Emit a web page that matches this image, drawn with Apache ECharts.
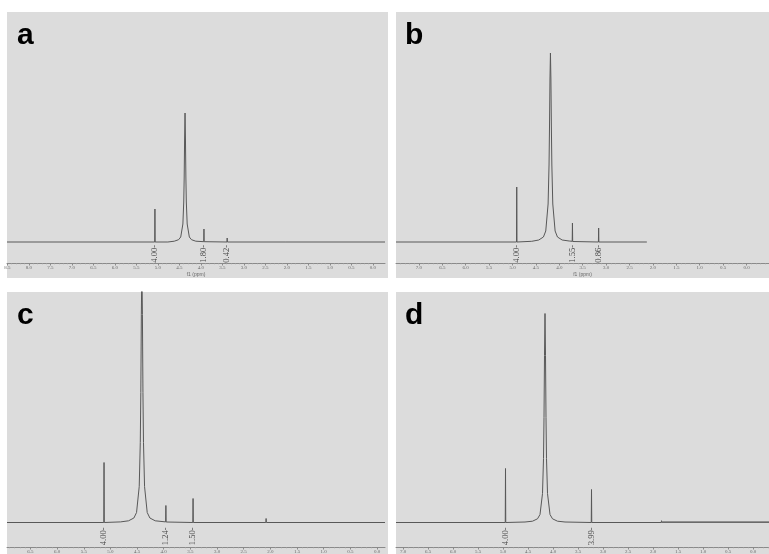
<!DOCTYPE html>
<html><head><meta charset="utf-8">
<script src="https://cdn.jsdelivr.net/npm/echarts@6/dist/echarts.min.js"></script>
<style>html,body{margin:0;padding:0;background:#fff}#c{width:769px;height:554px}</style>
</head><body><div id="c"></div>
<script>
// Panel letters
const panelNames = ['a', 'b', 'c', 'd'];
// Tick labels (ppm) for each panel
const ticksA = ['8.5','8.0','7.5','7.0','6.5','6.0','5.5','5.0','4.5','4.0','3.5','3.0','2.5','2.0','1.5','1.0','0.5','0.0'];
const ticksB = ['7.5','7.0','6.5','6.0','5.5','5.0','4.5','4.0','3.5','3.0','2.5','2.0','1.5','1.0','0.5','0.0','-0.5'];
const ticksC = ['7.0','6.5','6.0','5.5','5.0','4.5','4.0','3.5','3.0','2.5','2.0','1.5','1.0','0.5','0.0'];
const ticksD = ['7.0','6.5','6.0','5.5','5.0','4.5','4.0','3.5','3.0','2.5','2.0','1.5','1.0','0.5','0.0','-0.5'];
// Spectra: [ppm, intensity]
const specA = [[8.51,0],[5.075,0],[5.07,33],[5.065,0],[4.77,0],[4.62,0.8],[4.52,2.3],[4.47,5],[4.42,18],[4.40,40],[4.39,64],[4.38,103],[4.37,129],[4.36,103],[4.35,64],[4.34,40],[4.32,18],[4.27,5],[4.22,2.3],[4.12,0.8],[3.935,0.3],[3.93,13],[3.925,0.3],[3.395,0],[3.39,4],[3.385,0],[2.025,0],[2.02,2],[2.015,0],[-0.28,0]];
const specB = [[7.49,0],[4.915,0],[4.91,55],[4.905,0],[4.59,0.7],[4.44,2],[4.34,5],[4.29,11],[4.24,38],[4.22,77],[4.21,115],[4.20,163],[4.19,189],[4.18,163],[4.17,115],[4.16,77],[4.14,38],[4.09,11],[4.04,5],[3.94,2],[3.79,1],[3.725,0.7],[3.72,19],[3.715,0.5],[3.165,0],[3.16,14],[3.155,0],[2.13,0]];
const specC = [[6.94,0],[5.125,0],[5.12,60],[5.115,0],[4.81,0.6],[4.66,1.7],[4.56,4.5],[4.51,10],[4.46,36],[4.44,80],[4.43,130],[4.42,208],[4.41,260],[4.40,208],[4.39,130],[4.38,80],[4.36,36],[4.31,10],[4.26,4.5],[4.16,1.7],[3.965,0.6],[3.96,17],[3.955,0.5],[3.455,0],[3.45,24],[3.445,0],[2.085,0],[2.08,4],[2.075,0],[-0.15,0]];
const specD = [[7.14,0],[4.955,0],[4.95,54],[4.945,0],[4.56,0.5],[4.41,1.3],[4.31,3.7],[4.26,8],[4.21,29],[4.19,64],[4.18,105],[4.17,167],[4.16,209],[4.15,167],[4.14,105],[4.13,64],[4.11,29],[4.06,8],[4.01,3.7],[3.91,1.3],[3.76,0.5],[3.235,0],[3.23,33],[3.225,0],[1.835,0],[1.83,2],[1.825,0]];
const specD2 = [[1.83,0.3],[-0.32,0.3]];
// Integrals
const intPosA = [5.07, 3.93, 3.39];
const intValA = ['4.00', '1.80', '0.42'];
const intPosB = [4.91, 3.72, 3.16];
const intValB = ['4.00', '1.55', '0.86'];
const intPosC = [5.12, 3.96, 3.45];
const intValC = ['4.00', '1.24', '1.50'];
const intPosD = [4.95, 3.23];
const intValD = ['4.00', '3.99'];

const panels = [
  {rect:[7,12,381,266], grid:{left:7, top:12, width:378, height:251}, x:[-0.28,8.51], y:[-21,230], ticks:ticksA, spec:specA, ip:intPosA, iv:intValA, lab:[17,36], anchor:-3},
  {rect:[396,12,373,266], grid:{left:396, top:12, width:373, height:251}, x:[-0.48,7.49], y:[-21,230], ticks:ticksB, spec:specB, ip:intPosB, iv:intValB, lab:[405,36], anchor:-3},
  {rect:[7,292,381,262], grid:{left:7, top:292, width:378, height:255}, x:[-0.15,6.94], y:[-24.5,230.5], ticks:ticksC, spec:specC, ip:intPosC, iv:intValC, lab:[17,316], anchor:-5},
  {rect:[396,292,373,262], grid:{left:396, top:292, width:373, height:255}, x:[-0.32,7.14], y:[-24.5,230.5], ticks:ticksD, spec:specD, ip:intPosD, iv:intValD, lab:[405,316], anchor:-5}
];

const grid = [], xAxis = [], yAxis = [], series = [], graphic = [];
panels.forEach((p, i) => {
  graphic.push({type:'rect', z:-10, shape:{x:p.rect[0], y:p.rect[1], width:p.rect[2], height:p.rect[3]}, style:{fill:'#dcdcdc'}});
  graphic.push({type:'text', z:10, x:p.lab[0], y:p.lab[1], style:{text:panelNames[i], font:'bold 30px "Liberation Sans", Arial, sans-serif', fill:'#000', verticalAlign:'middle'}});
  grid.push(Object.assign({containLabel:false}, p.grid));
  const major = p.ticks.map(Number);
  const minor = [];
  for (let k = 0; k < major.length - 1; k++) {
    for (let m = 1; m < 5; m++) minor.push(+(major[k] + (major[k+1]-major[k]) * m / 5).toFixed(2));
  }
  xAxis.push({type:'value', gridIndex:i, inverse:true, min:p.x[0], max:p.x[1],
    axisLine:{show:true, onZero:false, lineStyle:{color:'#8a8a8a', width:1}},
    axisTick:{show:true, length:2.5, customValues:major, lineStyle:{color:'#8a8a8a'}},
    axisLabel:{show:true, customValues:major, formatter:v=>v.toFixed(1), fontSize:5, color:'#6a6a6a', margin:2, fontFamily:'Liberation Serif'},
    splitLine:{show:false},
    name: i < 2 ? 'f1 (ppm)' : '', nameLocation:'middle', nameGap:9, nameTextStyle:{fontSize:5, color:'#6a6a6a'}
  });
  xAxis.push({type:'value', gridIndex:i, inverse:true, min:p.x[0], max:p.x[1], position:'bottom',
    axisLine:{show:false, onZero:false}, axisTick:{show:true, length:1.2, customValues:minor, lineStyle:{color:'#999'}},
    axisLabel:{show:false}, splitLine:{show:false}});
  yAxis.push({type:'value', gridIndex:i, min:p.y[0], max:p.y[1], show:false});
  series.push({type:'line', xAxisIndex:2*i, yAxisIndex:i, data:p.spec, symbol:'none', clip:true,
    lineStyle:{color:'#585858', width:1}, animation:false});
  if (i === 3) {
    series.push({type:'line', xAxisIndex:2*i, yAxisIndex:i, data:specD2, symbol:'none', clip:true,
      lineStyle:{color:'#444', width:1.3}, animation:false});
  }
  series.push({type:'scatter', xAxisIndex:2*i, yAxisIndex:i, symbolSize:0.1, animation:false,
    itemStyle:{color:'#1a1a1a'},
    data:p.ip.map((x, k) => ({value:[x, p.anchor], name:p.iv[k]})),
    label:{show:true, position:'inside', rotate:90, align:'right', verticalAlign:'middle',
      formatter:d=>d.name + '-', fontSize:8.5, fontFamily:'Liberation Serif', color:'#1a1a1a',
      textBorderWidth:0, textShadowBlur:0}});
});

const chart = echarts.init(document.getElementById('c'), null, {renderer:'canvas'});
chart.setOption({animation:false, backgroundColor:'#fff', grid, xAxis, yAxis, series, graphic});
</script></body></html>
